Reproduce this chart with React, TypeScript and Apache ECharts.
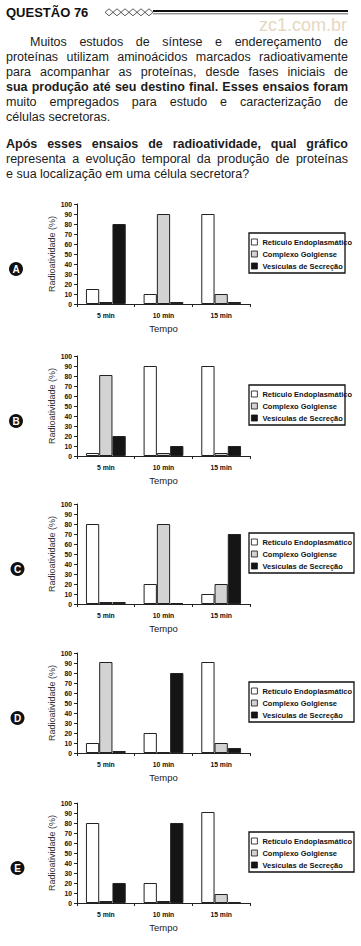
import React, { useEffect, useRef } from "react";
import * as echarts from "echarts";

const categories = ["5 min", "10 min", "15 min"];
const seriesNames = ["Retículo Endoplasmático", "Complexo Golgiense", "Vesículas de Secreção"];
const optionLetters = ["A", "B", "C", "D", "E"];
const yAxisName = "Radioatividade (%)";
const xAxisName = "Tempo";

// values per category (5, 10, 15 min)
const reA = [15, 10, 90];
const cgA = [2, 90, 10];
const vsA = [80, 2, 2];

const reB = [3, 90, 90];
const cgB = [81, 3, 3];
const vsB = [20, 10, 10];

const reC = [80, 20, 10];
const cgC = [2, 80, 20];
const vsC = [2, 1, 70];

const reD = [10, 20, 91];
const cgD = [91, 1, 10];
const vsD = [2, 80, 5];

const reE = [80, 20, 91];
const cgE = [2, 2, 9];
const vsE = [20, 80, 1];

const dataSets = [
  [reA, cgA, vsA],
  [reB, cgB, vsB],
  [reC, cgC, vsC],
  [reD, cgD, vsD],
  [reE, cgE, vsE],
];

const titleText = "QUESTÃO 76";
const watermark = "zc1.com.br";
const paragraph1 = [
  "Muitos estudos de síntese e endereçamento de",
  "proteínas utilizam aminoácidos marcados radioativamente",
  "para acompanhar as proteínas, desde fases iniciais de",
  "sua produção até seu destino final. Esses ensaios foram",
  "muito empregados para estudo e caracterização de",
  "células secretoras.",
];
const paragraph2 = [
  "Após esses ensaios de radioatividade, qual gráfico",
  "representa a evolução temporal da produção de proteínas",
  "e sua localização em uma célula secretora?",
];

const FONT = "Liberation Sans";
const barColors = ["#ffffff", "#d3d3d3", "#151515"];
const chartTops = [204, 356, 504, 653, 803];

export default function App() {
  const ref = useRef<HTMLDivElement>(null);

  useEffect(() => {
    if (!ref.current) return;
    const chart = echarts.init(ref.current, undefined, { renderer: "svg" });
    const ctx = document.createElement("canvas").getContext("2d")!;

    const graphics: any[] = [];

    const textEl = (text: string, x: number, y: number, size: number, weight: string, fill: string, align = "left", scaleX = 1) => ({
      type: "text",
      x,
      y,
      scaleX,
      originX: 0,
      style: {
        text,
        fontSize: size,
        fontFamily: FONT,
        fontWeight: weight,
        fill,
        textAlign: align,
        textVerticalAlign: "middle",
      },
    });

    const layoutLine = (text: string, x0: number, x1: number, y: number, size: number, weight: string, justify: boolean) => {
      ctx.font = `${weight} ${size}px "${FONT}"`;
      const words = text.split(" ");
      const widths = words.map((w) => ctx.measureText(w).width);
      const space = ctx.measureText(" ").width;
      const total = widths.reduce((a, b) => a + b, 0);
      const target = x1 - x0;
      let gap = space;
      let scale = 1;
      if (justify && words.length > 1) {
        gap = (target - total) / (words.length - 1);
        if (gap < space * 0.4) {
          gap = space * 0.4;
          scale = target / (total + gap * (words.length - 1));
        }
      }
      let x = x0;
      words.forEach((w, i) => {
        graphics.push(textEl(w, x0 + (x - x0) * scale, y, size, weight, "#1c1c1c", "left", scale));
        x += widths[i] + gap;
      });
    };

    // Header
    graphics.push(textEl(titleText, 6, 12, 13, "bold", "#111"));
    for (let k = 0; k < 6; k++) {
      const cx = 109 + k * 8;
      graphics.push({
        type: "polygon",
        shape: { points: [[cx - 4, 12.3], [cx, 8.8], [cx + 4, 12.3], [cx, 15.8]] },
        style: { fill: "#fff", stroke: "#333", lineWidth: 0.8 },
      });
    }
    graphics.push({ type: "line", shape: { x1: 153, y1: 11, x2: 348, y2: 11 }, style: { stroke: "#111", lineWidth: 2.2 } });
    graphics.push({ type: "line", shape: { x1: 153, y1: 13.8, x2: 348, y2: 13.8 }, style: { stroke: "#555", lineWidth: 0.9 } });
    graphics.push(textEl(watermark, 347, 25, 18, "normal", "#e6d7c2", "right"));

    const p1y = [41.7, 56.7, 71.5, 86.8, 101.7, 116.7];
    paragraph1.forEach((line, i) => {
      const bold = i === 3;
      layoutLine(line, i === 0 ? 30 : 6, 348, p1y[i], 12.5, bold ? "bold" : "normal", i !== paragraph1.length - 1);
    });
    const p2y = [144.3, 159, 173.5];
    paragraph2.forEach((line, i) => {
      const bold = i === 0;
      layoutLine(line, 6, 348, p2y[i], 12.5, bold ? "bold" : "normal", i !== paragraph2.length - 1);
    });

    // letters and legend boxes
    chartTops.forEach((top, i) => {
      const cy = top + 65;
      const cx = i < 2 ? 16 : 17.5;
      graphics.push({ type: "circle", shape: { cx, cy, r: 7 }, style: { fill: "#111" } });
      graphics.push(textEl(optionLetters[i], cx, cy + 0.5, 10, "bold", "#fff", "center"));
      graphics.push({
        type: "rect",
        shape: { x: 249, y: top + 29, width: i < 2 ? 96 : 105, height: 40 },
        style: { fill: "none", stroke: "#111", lineWidth: 1.3 },
      });
    });

    const grids = chartTops.map((top) => ({ left: 77, top, width: 173, height: 100, containLabel: false }));

    const xAxes = chartTops.map((_, i) => ({
      type: "category",
      gridIndex: i,
      data: categories,
      axisLine: { lineStyle: { color: "#222", width: 1 } },
      axisTick: { show: true, length: 3, lineStyle: { color: "#222" } },
      axisLabel: { fontSize: 6.8, fontWeight: "bold", color: "#111", margin: 8, fontFamily: FONT },
      name: xAxisName,
      nameLocation: "middle",
      nameGap: 19,
      nameTextStyle: { fontSize: 9.5, color: "#222", fontFamily: FONT },
    }));

    const yAxes = chartTops.map((_, i) => ({
      type: "value",
      gridIndex: i,
      min: 0,
      max: 100,
      interval: 10,
      axisLine: { show: true, lineStyle: { color: "#222", width: 1 } },
      axisTick: { show: true, length: 3, lineStyle: { color: "#222" } },
      axisLabel: { fontSize: 6.8, fontWeight: "bold", color: "#111", margin: 5, fontFamily: FONT },
      splitLine: { show: false },
      name: yAxisName,
      nameLocation: "middle",
      nameGap: 18,
      nameTextStyle: { fontSize: 9, color: "#333", fontFamily: FONT },
    }));

    const series: any[] = [];
    dataSets.forEach((set, i) => {
      set.forEach((vals, s) => {
        series.push({
          type: "bar",
          name: seriesNames[s],
          xAxisIndex: i,
          yAxisIndex: i,
          data: vals,
          barGap: "0%",
          barCategoryGap: "31%",
          itemStyle: { color: barColors[s], borderColor: "#222", borderWidth: 1 },
        });
      });
    });

    const legends = chartTops.map((top) => ({
      data: seriesNames,
      left: 251,
      top: top + 34,
      orient: "vertical",
      itemWidth: 6,
      itemHeight: 6,
      itemGap: 4,
      padding: 0,
      selectedMode: false,
      icon: "rect",
      itemStyle: { borderColor: "#111", borderWidth: 0.8 },
      textStyle: { fontSize: 7.5, fontWeight: "bold", color: "#111", lineHeight: 8, fontFamily: FONT },
    }));

    chart.setOption({
      animation: false,
      backgroundColor: "#ffffff",
      textStyle: { fontFamily: FONT },
      grid: grids,
      xAxis: xAxes,
      yAxis: yAxes,
      legend: legends,
      series,
      graphic: graphics,
    });

    return () => chart.dispose();
  }, []);

  return <div ref={ref} style={{ position: "absolute", left: 0, top: 0, width: 361, height: 946 }} />;
}
